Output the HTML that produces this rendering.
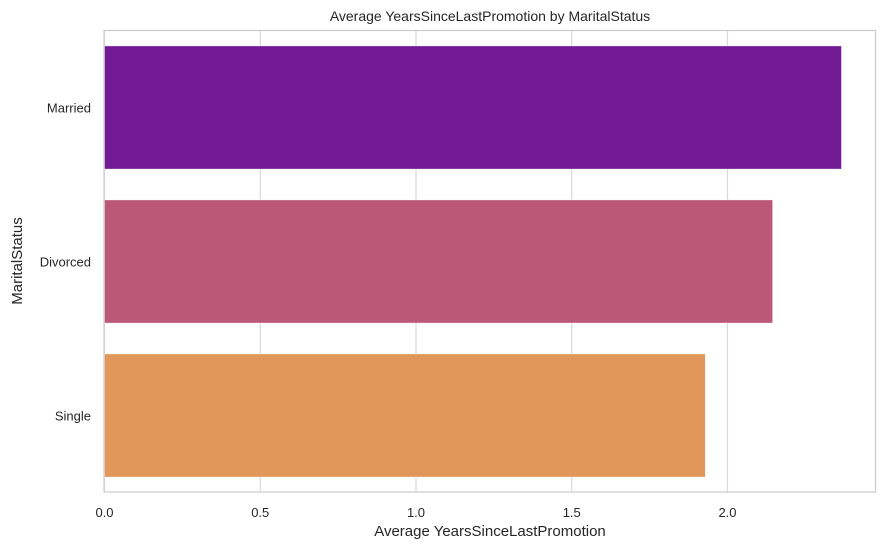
<!DOCTYPE html>
<html><head><meta charset="utf-8"><style>
body{margin:0;background:#fff;font-family:"Liberation Sans","DejaVu Sans",sans-serif;}
</style></head><body>
<svg id="chart" width="888" height="550" xmlns="http://www.w3.org/2000/svg" font-family="Liberation Sans, DejaVu Sans, sans-serif">
<rect width="888" height="550" fill="#fff"/>
<text x="490" y="21" text-anchor="middle" font-size="14" fill="#262626">Average YearsSinceLastPromotion by MaritalStatus</text>
<g id="grid"></g>
<g id="bars"></g>
<g id="ticks"></g>
<rect x="104" y="30.5" width="771.5" height="461.5" fill="none" stroke="#ccc" stroke-width="1.2"/>
<text x="490" y="536" text-anchor="middle" font-size="15" fill="#262626">Average YearsSinceLastPromotion</text>
<text transform="translate(22,261) rotate(-90)" text-anchor="middle" font-size="15" fill="#262626">MaritalStatus</text>
</svg>
<script>
const categories = ["Married","Divorced","Single"];
const values = [2.366, 2.145, 1.929];
const colors = ["#721994","#bb5878","#e1975a"];
const xTicks = [0,0.5,1,1.5,2];
const xTickLabels = ["0.0","0.5","1.0","1.5","2.0"];
const NS="http://www.w3.org/2000/svg";
const x0=104.5, pxPerUnit=311.5, plotTop=30.5, band=154;
function xs(v){return x0+v*pxPerUnit;}
function yc(i){return plotTop+band*(i+0.5);}
const grid=document.getElementById('grid'), bars=document.getElementById('bars'), ticks=document.getElementById('ticks');
function mk(t,a){const e=document.createElementNS(NS,t);for(const k in a)e.setAttribute(k,a[k]);return e;}
xTicks.forEach((v,i)=>{
  const l=mk('line',{x1:xs(v),x2:xs(v),y1:30.5,y2:492,stroke:'#d9d9d9','stroke-width':1.2});
  
  
  grid.appendChild(l);
  const t=mk('text',{x:xs(v),y:517,'text-anchor':'middle','font-size':13,fill:'#262626'});
  t.textContent=xTickLabels[i];
  
  
  ticks.appendChild(t);
});
categories.forEach((c,i)=>{
  const h=band*0.8;
  const r=mk('rect',{x:xs(0),y:yc(i)-h/2,width:xs(values[i])-xs(0),height:h,fill:colors[i],stroke:'#fff','stroke-width':0.5});
  
  
  bars.appendChild(r);
  const t=mk('text',{x:91,y:yc(i)+5,'text-anchor':'end','font-size':13,fill:'#262626'});
  t.textContent=c;
  
  
  ticks.appendChild(t);
});
</script>
</body></html>
